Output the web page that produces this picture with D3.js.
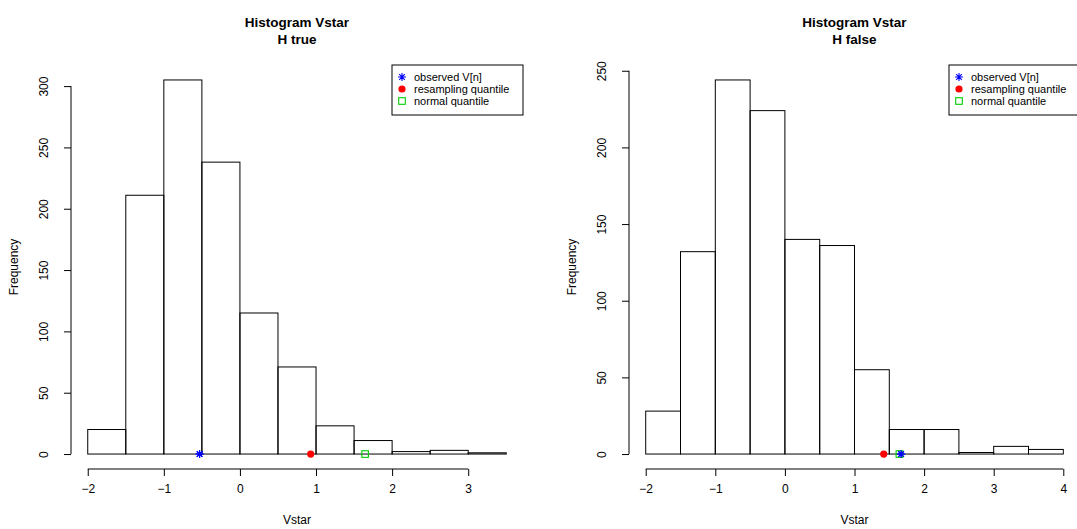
<!DOCTYPE html>
<html>
<head>
<meta charset="utf-8">
<script src="https://cdn.jsdelivr.net/npm/d3@7"></script>
<style>
  body { margin: 0; background: #fff; }
  svg { font-family: "Liberation Sans", Arial, sans-serif; }
</style>
</head>
<body>
<svg id="chart" width="1077" height="529"></svg>
<script>
// bin edges are shared by both panels, width 0.5 starting at -2
var binWidth = 0.5
var binStart = -2

var countsTrue = [20, 211, 305, 238, 115, 71, 23, 11, 2, 3, 1]
var countsFalse = [28, 132, 244, 224, 140, 136, 55, 16, 16, 1, 5, 3]

var xTicksTrue = [-2, -1, 0, 1, 2, 3]
var xTicksFalse = [-2, -1, 0, 1, 2, 3, 4]
var yTicksTrue = [0, 50, 100, 150, 200, 250, 300]
var yTicksFalse = [0, 50, 100, 150, 200, 250]

// observed statistic, resampling quantile, normal quantile
var pointsTrue = [-0.53, 0.93, 1.645]
var pointsFalse = [1.67, 1.42, 1.645]

var legendLabels = ['observed V[n]', 'resampling quantile', 'normal quantile']
var legendColors = ['#0000ff', '#ff0000', '#00cd00']

var svg = d3.select('#chart')
var fmt = d3.format('d')

function asterisk(sel, s) {
    sel.append('path')
        .attr('d', 'M' + (-s) + ',0H' + s + 'M0,' + (-s) + 'V' + s +
            'M' + (-s * 0.7) + ',' + (-s * 0.7) + 'L' + (s * 0.7) + ',' + (s * 0.7) +
            'M' + (-s * 0.7) + ',' + (s * 0.7) + 'L' + (s * 0.7) + ',' + (-s * 0.7))
        .attr('stroke', legendColors[0])
        .attr('stroke-width', 1.1)
        .attr('fill', 'none')
}

function symbol(g, i, x, y) {
    var s = g.append('g').attr('transform', 'translate(' + x + ',' + y + ')')
    if (i == 0) {
        asterisk(s, 4)
    } else if (i == 1) {
        s.append('circle').attr('r', 3.6).attr('fill', legendColors[1])
    } else {
        s.append('rect').attr('x', -3.3).attr('y', -3.3).attr('width', 6.6).attr('height', 6.6)
            .attr('fill', 'none').attr('stroke', legendColors[2]).attr('stroke-width', 1.1)
    }
}

function panel(opt) {
    var counts = opt.counts
    var nb = counts.length
    var lo = binStart, hi = binStart + nb * binWidth
    var ymax = d3.max(counts)
    var x = d3.scaleLinear()
        .domain([lo - 0.04 * (hi - lo), hi + 0.04 * (hi - lo)])
        .range([opt.left, opt.right])
    var y = d3.scaleLinear()
        .domain([-0.04 * ymax, ymax * 1.04])
        .range([opt.bottom, opt.top])

    var g = svg.append('g')

    g.selectAll('rect.bar')
        .data(counts)
        .enter().append('rect')
        .attr('class', 'bar')
        .attr('x', (d, i) => x(lo + i * binWidth))
        .attr('width', x(binWidth) - x(0))
        .attr('y', d => y(d))
        .attr('height', d => y(0) - y(d))
        .attr('fill', 'none')
        .attr('stroke', '#000')
        .attr('stroke-width', 1)

    // x axis, line only between first and last tick like R
    var xa = g.append('g')
        .attr('transform', 'translate(0,' + opt.bottom + ')')
        .call(d3.axisBottom(x).tickValues(opt.xTicks).tickFormat(fmt)
            .tickSize(7).tickSizeOuter(0).tickPadding(8))
    xa.select('.domain').attr('d', 'M' + x(opt.xTicks[0]) + ',0H' + x(opt.xTicks[opt.xTicks.length - 1]))
    xa.selectAll('text').attr('font-size', 12).attr('fill', '#000')
        .attr('font-family', '"Liberation Sans", Arial, sans-serif')

    var ya = g.append('g')
        .attr('transform', 'translate(' + opt.left + ',0)')
        .call(d3.axisLeft(y).tickValues(opt.yTicks).tickFormat(fmt).tickSize(7).tickSizeOuter(0))
    ya.select('.domain').attr('d', 'M0,' + y(opt.yTicks[0]) + 'V' + y(opt.yTicks[opt.yTicks.length - 1]))
    ya.selectAll('text')
        .attr('font-size', 12).attr('fill', '#000')
        .attr('font-family', '"Liberation Sans", Arial, sans-serif')
        .attr('x', null).attr('dy', null)
        .attr('text-anchor', 'middle')
        .attr('transform', 'translate(-27,0) rotate(-90)')
        .attr('y', 4)

    var cx = (opt.left + opt.right) / 2
    g.append('text').attr('x', cx).attr('y', 27).attr('text-anchor', 'middle')
        .attr('font-weight', 'bold').attr('font-size', 13.5).text('Histogram Vstar')
    g.append('text').attr('x', cx).attr('y', 44).attr('text-anchor', 'middle')
        .attr('font-weight', 'bold').attr('font-size', 13.5).text(opt.sub)
    g.append('text').attr('x', cx).attr('y', 524).attr('text-anchor', 'middle')
        .attr('font-size', 12).text('Vstar')
    g.append('text')
        .attr('transform', 'translate(' + (opt.left - 53) + ',' + ((opt.top + opt.bottom) / 2) + ') rotate(-90)')
        .attr('text-anchor', 'middle').attr('font-size', 12).text('Frequency')

    // markers on the baseline
    opt.points.forEach(function (p, i) {
        symbol(g, i, x(p), y(0))
    })
    // asterisk drawn again so it stays on top of the square
    symbol(g, 0, x(opt.points[0]), y(0))

    // legend, top right corner of the plot region
    var lw = 131, lh = 50
    var lg = g.append('g').attr('transform', 'translate(' + (opt.right - lw) + ',' + opt.top + ')')
    lg.append('rect').attr('width', lw).attr('height', lh)
        .attr('fill', '#fff').attr('stroke', '#000')
    legendLabels.forEach(function (t, i) {
        var ly = 12 + i * 12
        symbol(lg, i, 10, ly)
        lg.append('text').attr('x', 22).attr('y', ly + 4)
            .attr('font-size', 11).text(t)
    })
}

panel({
    counts: countsTrue, xTicks: xTicksTrue, yTicks: yTicksTrue, points: pointsTrue,
    sub: 'H true', left: 71, right: 523, top: 65, bottom: 469
})
panel({
    counts: countsFalse, xTicks: xTicksFalse, yTicks: yTicksFalse, points: pointsFalse,
    sub: 'H false', left: 629, right: 1080, top: 65, bottom: 469
})
</script>
</body>
</html>
